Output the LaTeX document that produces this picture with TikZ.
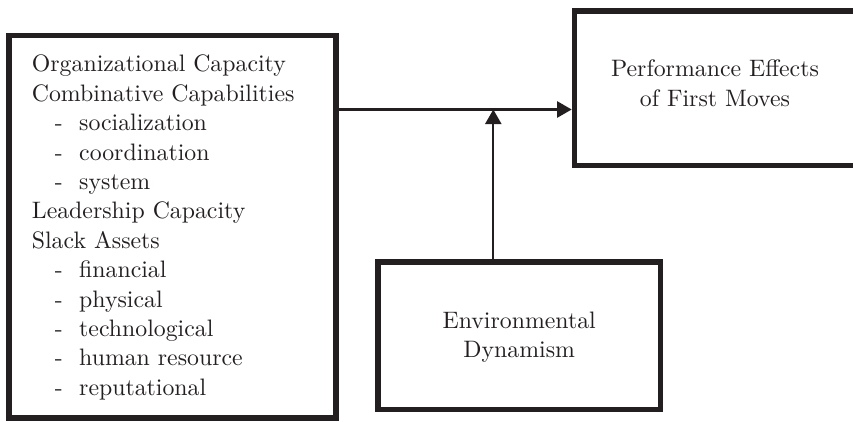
\documentclass[tikz,border=0pt]{standalone}
\usepackage{fontspec}
\setmainfont{lmroman10-regular}[Extension=.otf]
\usetikzlibrary{arrows.meta}
\definecolor{ink}{RGB}{35,31,32}
\begin{document}
\begin{tikzpicture}[x=1pt,y=-1pt,
  box/.style={draw=ink, line width=5.6pt, rectangle, inner sep=0pt},
  txt/.style={inner sep=0pt, text=ink, font=\fontsize{23.8}{29.4}\selectfont},
  conn/.style={draw=ink, line width=2.2pt, -{Triangle[length=14.5pt,width=16pt]}}]
\useasboundingbox (0,0) rectangle (853,421);
% boxes
\node[box, minimum width=327pt, minimum height=382.5pt] (left) at (172.5,226.75) {};
\node[box, minimum width=281.5pt, minimum height=154.5pt] (right) at (715.25,88.25) {};
\node[box, minimum width=282.5pt, minimum height=147.5pt] (env) at (519.25,335.75) {};
% texts
\newcommand{\dashitem}[1]{\makebox[47.3pt][l]{\hspace*{23pt}-}#1}
\node[txt, anchor=north west, align=left] (lefttext) at (31.7,51.1)
  {\strut Organizational Capacity\\
   Combinative Capabilities\\
   \dashitem{socialization}\\
   \dashitem{coordination}\\
   \dashitem{system}\\
   Leadership Capacity\\
   Slack Assets\\
   \dashitem{financial}\\
   \dashitem{physical}\\
   \dashitem{technological}\\
   \dashitem{human resource}\\
   \dashitem{reputational}};
\node[txt, anchor=north, align=center] (righttext) at (715,56.1)
  {\strut Performance Effects\\ of First Moves};
\node[txt, anchor=north, align=center] (envtext) at (519.2,307.7)
  {\strut Environmental\\ Dynamism};
% connectors
\coordinate (junc) at (493.3,109.5);
\draw[conn] (junc -| left.east) -- (junc -| right.west);
\draw[conn] (junc |- env.north) -- (junc);
\end{tikzpicture}
\end{document}
